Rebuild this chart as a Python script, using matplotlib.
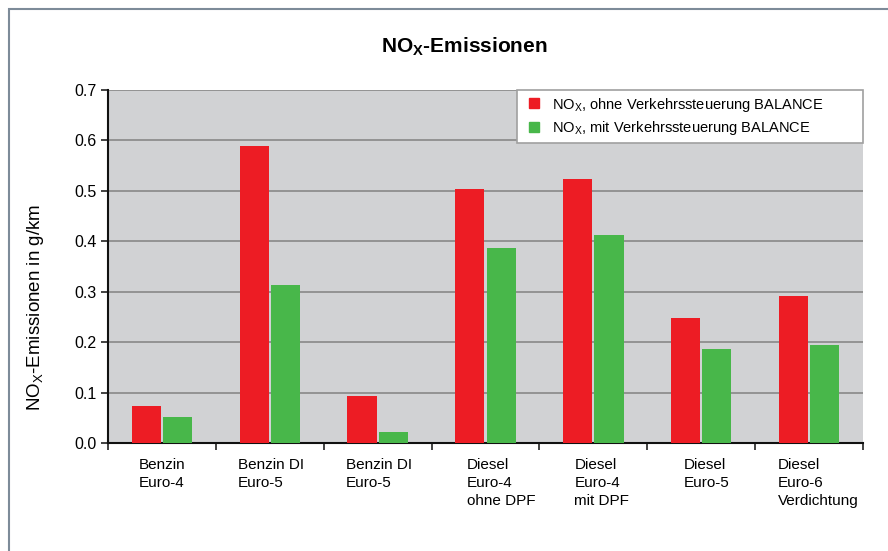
import matplotlib
matplotlib.use("Agg")
import matplotlib.pyplot as plt
from matplotlib import font_manager
from matplotlib.patches import Rectangle
from matplotlib.lines import Line2D
import numpy as np

categories = ["Benzin\nEuro-4", "Benzin DI\nEuro-5", "Benzin DI\nEuro-5",
              "Diesel\nEuro-4\nohne DPF", "Diesel\nEuro-4\nmit DPF",
              "Diesel\nEuro-5", "Diesel\nEuro-6\nVerdichtung"]
nox_ohne = [0.074, 0.589, 0.094, 0.504, 0.524, 0.248, 0.292]
nox_mit = [0.052, 0.314, 0.022, 0.387, 0.413, 0.187, 0.195]
yticks = [0.0, 0.1, 0.2, 0.3, 0.4, 0.5, 0.6, 0.7]
series_labels = ["NO$_\\mathrm{X}$, ohne Verkehrssteuerung BALANCE",
                 "NO$_\\mathrm{X}$, mit Verkehrssteuerung BALANCE"]
# left start of each category label, in pixels from the category's left edge
label_offsets = [31, 22, 22, 35, 35, 36, 23]

names = {f.name for f in font_manager.fontManager.ttflist}
narrow = "Liberation Sans Narrow" if "Liberation Sans Narrow" in names else "Liberation Sans"

plt.rcParams["font.family"] = [narrow, "DejaVu Sans"]
plt.rcParams["mathtext.fontset"] = "custom"
plt.rcParams["mathtext.rm"] = narrow
plt.rcParams["mathtext.bf"] = narrow + ":bold"

RED = "#ed1c24"
GREEN = "#48b74a"

W, H = 888, 551
ax_l, ax_r, ax_t, ax_b = 108, 863, 90, 443
fig = plt.figure(figsize=(W / 100, H / 100), dpi=100)
ax = fig.add_axes([ax_l / W, 1 - ax_b / H, (ax_r - ax_l) / W, (ax_b - ax_t) / H])

# outer frame
fig.patches.append(Rectangle((9 / W, -0.1), 1.2, 1 - 9 / H + 0.1, transform=fig.transFigure,
                             fill=False, edgecolor="#7d8b99", linewidth=1.5))

x = np.arange(len(categories))
bw = 0.27
ax.bar(x - 0.145, nox_ohne, bw, color=RED, zorder=3)
ax.bar(x + 0.145, nox_mit, bw, color=GREEN, zorder=3)

ax.set_facecolor("#d1d2d4")
ax.set_xlim(-0.5, len(categories) - 0.5)
ax.set_ylim(0, 0.7)
ax.set_yticks(yticks)
ax.set_yticklabels([f"{v:.1f}" for v in yticks], fontfamily="Liberation Sans", fontsize=11.5)
ax.yaxis.grid(True, color="#8e8e8e", linewidth=1.3, zorder=1)
ax.set_axisbelow(True)

ax.set_xticks(np.arange(len(categories) + 1) - 0.5)
ax.set_xticklabels([])
ax.tick_params(axis="both", direction="out", length=5, width=1.2, color="#222222")
ax.tick_params(axis="y", pad=3)
for s in ["top", "right"]:
    ax.spines[s].set_visible(False)
for s in ["left", "bottom"]:
    ax.spines[s].set_linewidth(1.5)
    ax.spines[s].set_color("#111111")

cat_w = (ax_r - ax_l) / len(categories)
for i, lab in enumerate(categories):
    ax.text(i - 0.5 + label_offsets[i] / cat_w, -0.029, lab, ha="left", va="top",
            fontsize=11, linespacing=1.4)

handles = [Line2D([], [], marker="s", linestyle="none", markersize=7.5, color=RED),
           Line2D([], [], marker="s", linestyle="none", markersize=7.5, color=GREEN)]
leg = ax.legend(handles, series_labels, loc="upper left", mode="expand",
                bbox_to_anchor=((517 - ax_l) / (ax_r - ax_l), 1, (ax_r - 517) / (ax_r - ax_l), 0),
                fontsize=10.5, frameon=True, fancybox=False, framealpha=1,
                borderaxespad=0, handlelength=1.6, handletextpad=0.45,
                borderpad=0.38, labelspacing=0.38)
leg.get_frame().set_edgecolor("#a0a0a0")
leg.get_frame().set_linewidth(1.2)

fig.text(464 / W, 1 - 47 / H, "NO$_\\mathbf{X}$-Emissionen", ha="center", va="center",
         fontsize=15, fontweight="bold")
fig.text(35 / W, 1 - 307 / H, "NO$_\\mathrm{X}$-Emissionen in g/km", ha="center", va="center",
         rotation=90, fontsize=13.5)

fig.savefig("out.png", dpi=100)
